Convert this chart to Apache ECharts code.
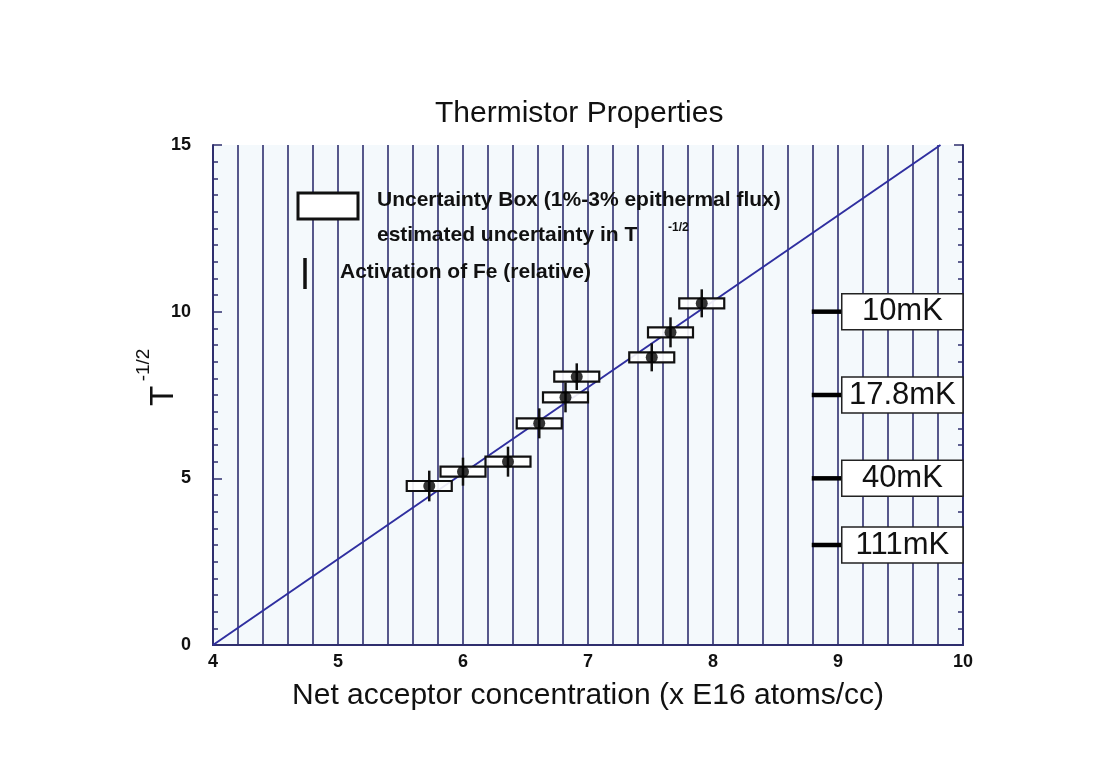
<!DOCTYPE html>
<html>
<head>
<meta charset="utf-8">
<script src="https://cdn.jsdelivr.net/npm/echarts@6/dist/echarts.min.js"></script>
<style>
html,body{margin:0;padding:0;background:#ffffff;}
#chart{width:1104px;height:782px;}
</style>
</head>
<body>
<div id="chart"></div>
<script>
// ---- data ----
const xValues = [5.73, 6.00, 6.36, 6.61, 6.82, 6.91, 7.51, 7.66, 7.91];   // net acceptor conc.
const yValues = [4.77, 5.20, 5.50, 6.65, 7.43, 8.05, 8.63, 9.38, 10.25];  // T^-1/2
const boxHalfX = [0.18, 0.18, 0.18, 0.18, 0.18, 0.18, 0.18, 0.18, 0.18]; // uncertainty box half width
const boxHalfY = [0.15, 0.15, 0.15, 0.15, 0.15, 0.15, 0.15, 0.15, 0.15]; // uncertainty box half height
const feErr    = [0.46, 0.42, 0.45, 0.45, 0.45, 0.40, 0.42, 0.45, 0.42]; // activation of Fe (relative)
const fitLine  = [[4, 0], [9.82, 15]];
const tempLabels = ['10mK', '17.8mK', '40mK', '111mK'];
const tempValues = [10, 7.5, 5, 3];
const xTickLabels = [4, 5, 6, 7, 8, 9, 10];
const yTickLabels = [0, 5, 10, 15];

const FONT = '"Liberation Sans", Arial, Helvetica, sans-serif';
const NAVY = '#2f2f6e';

const chart = echarts.init(document.getElementById('chart'));

const points = xValues.map((x, i) => [x, yValues[i], boxHalfX[i], boxHalfY[i], feErr[i]]);
const temps = tempValues.map((v, i) => [v, tempLabels[i]]);

const option = {
  backgroundColor: '#ffffff',
  animation: false,
  title: {
    text: 'Thermistor Properties',
    left: 430, top: 94,
    textStyle: { fontFamily: FONT, fontSize: 30, fontWeight: 'normal', color: '#111' }
  },
  grid: {
    left: 213, top: 145, right: 141, bottom: 137,
    show: true, backgroundColor: '#f4f9fc', borderWidth: 0
  },
  xAxis: [{
    type: 'value', min: 4, max: 10, interval: 1, position: 'bottom',
    name: 'Net acceptor concentration (x E16 atoms/cc)',
    nameLocation: 'middle', nameGap: 36,
    nameTextStyle: { fontFamily: FONT, fontSize: 30, color: '#111' },
    axisLine: { show: true, lineStyle: { color: NAVY, width: 2 } },
    axisTick: { show: false },
    minorTick: { show: true, splitNumber: 5, length: 0 },
    splitLine: { show: true, lineStyle: { color: NAVY, width: 1.6 } },
    minorSplitLine: { show: true, lineStyle: { color: NAVY, width: 1.6 } },
    axisLabel: {
      margin: 8, fontFamily: FONT, fontSize: 18, fontWeight: 'bold', color: '#111',
      formatter: v => (xTickLabels.indexOf(v) >= 0 ? String(v) : '')
    }
  }, {
    type: 'value', min: 4, max: 10, interval: 1, position: 'top',
    axisLine: { show: true, lineStyle: { color: NAVY, width: 2 } },
    axisTick: { show: false }, axisLabel: { show: false }, splitLine: { show: false }
  }],
  yAxis: [{
    type: 'value', min: 0, max: 15, interval: 5, position: 'left',
    axisLine: { show: true, lineStyle: { color: NAVY, width: 2 } },
    axisTick: { show: true, inside: true, length: 9, lineStyle: { color: NAVY, width: 1.5 } },
    minorTick: { show: true, splitNumber: 10, length: 5, lineStyle: { color: NAVY, width: 1.5 } },
    splitLine: { show: false },
    axisLabel: {
      margin: 22, fontFamily: FONT, fontSize: 18, fontWeight: 'bold', color: '#111',
      formatter: v => (yTickLabels.indexOf(v) >= 0 ? String(v) : '')
    }
  }, {
    type: 'value', min: 0, max: 15, interval: 5, position: 'right',
    axisLine: { show: true, lineStyle: { color: NAVY, width: 2 } },
    axisTick: { show: true, inside: true, length: 9, lineStyle: { color: NAVY, width: 1.5 } },
    minorTick: { show: true, splitNumber: 10, length: 5, lineStyle: { color: NAVY, width: 1.5 } },
    splitLine: { show: false }, axisLabel: { show: false }
  }],
  graphic: [
    // y-axis name T^-1/2
    { type: 'text', x: 164, y: 396, rotation: Math.PI / 2,
      style: { text: 'T', font: '33px ' + FONT, fill: '#111', align: 'center', verticalAlign: 'middle' } },
    { type: 'text', x: 144, y: 365, rotation: Math.PI / 2,
      style: { text: '-1/2', font: '19px ' + FONT, fill: '#111', align: 'center', verticalAlign: 'middle' } },
    // legend
    { type: 'rect', shape: { x: 298, y: 193, width: 60, height: 26 },
      style: { fill: '#ffffff', stroke: '#111', lineWidth: 3 }, z: 50 },
    { type: 'text', x: 377, y: 200, z: 50,
      style: { text: 'Uncertainty Box (1%-3% epithermal flux)', font: 'bold 21px ' + FONT, fill: '#111', verticalAlign: 'middle' } },
    { type: 'text', x: 377, y: 235, z: 50,
      style: { text: 'estimated uncertainty in T', font: 'bold 21px ' + FONT, fill: '#111', verticalAlign: 'middle' } },
    { type: 'text', x: 668, y: 228, z: 50,
      style: { text: '-1/2', font: 'bold 12px ' + FONT, fill: '#111', verticalAlign: 'middle' } },
    { type: 'line', shape: { x1: 305, y1: 258, x2: 305, y2: 289 }, z: 50,
      style: { stroke: '#111', lineWidth: 3.5 } },
    { type: 'text', x: 340, y: 272, z: 50,
      style: { text: 'Activation of Fe (relative)', font: 'bold 21px ' + FONT, fill: '#111', verticalAlign: 'middle' } }
  ],
  series: [
    {
      name: 'fit', type: 'line', data: fitLine, symbol: 'none',
      lineStyle: { color: '#2f2fa0', width: 2 }, z: 3
    },
    {
      name: 'Uncertainty Box', type: 'custom', data: points, z: 4,
      renderItem: function (params, api) {
        const x = api.value(0), y = api.value(1), dx = api.value(2), dy = api.value(3);
        const p1 = api.coord([x - dx, y + dy]);
        const p2 = api.coord([x + dx, y - dy]);
        return {
          type: 'rect',
          shape: { x: p1[0], y: p1[1], width: p2[0] - p1[0], height: p2[1] - p1[1] },
          style: { fill: 'rgba(255,255,255,0.9)', stroke: '#111', lineWidth: 2.2 }
        };
      }
    },
    {
      name: 'Activation of Fe', type: 'custom', data: points, z: 5,
      renderItem: function (params, api) {
        const x = api.value(0), y = api.value(1), e = api.value(4);
        const a = api.coord([x, y + e]);
        const b = api.coord([x, y - e]);
        return {
          type: 'line',
          shape: { x1: a[0], y1: a[1], x2: b[0], y2: b[1] },
          style: { stroke: '#111', lineWidth: 2.5 }
        };
      }
    },
    {
      name: 'points', type: 'scatter', data: points.map(p => [p[0], p[1]]),
      symbol: 'circle', symbolSize: 12, itemStyle: { color: '#000' }, z: 6
    },
    {
      name: 'temperatures', type: 'custom', data: temps, z: 7,
      encode: { y: 0 },
      renderItem: function (params, api) {
        const v = api.value(0);
        const label = tempLabels[params.dataIndex];
        const t1 = api.coord([8.79, v]);
        const t2 = api.coord([9.03, v]);
        const b1 = api.coord([9.03, v + 0.54]);
        const b2 = api.coord([10.0, v - 0.54]);
        return {
          type: 'group',
          children: [
            { type: 'line', shape: { x1: t1[0], y1: t1[1], x2: t2[0], y2: t2[1] },
              style: { stroke: '#000', lineWidth: 4.5 } },
            { type: 'rect',
              shape: { x: b1[0], y: b1[1], width: b2[0] - b1[0], height: b2[1] - b1[1] },
              style: { fill: '#ffffff', stroke: '#222', lineWidth: 1.5 },
              textContent: { style: { text: label, font: '31px ' + FONT, fill: '#111' } },
              textConfig: { position: 'inside' } }
          ]
        };
      }
    }
  ]
};
chart.setOption(option);
</script>
</body>
</html>
